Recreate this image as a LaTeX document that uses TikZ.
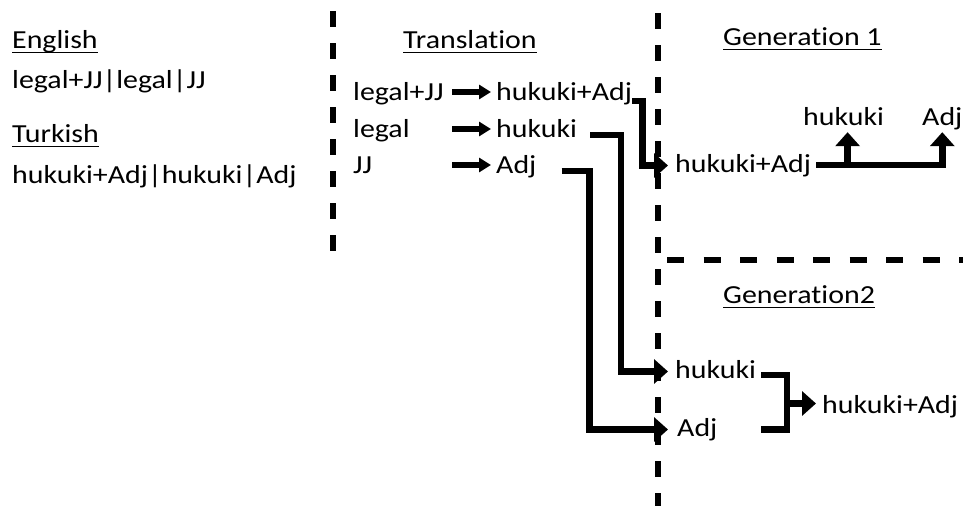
\documentclass[tikz,border=0pt]{standalone}
\usepackage{fontspec}
\setmainfont{Carlito}[FakeStretch=1.15,Ligatures=NoCommon]
\usetikzlibrary{arrows.meta}
\begin{document}
\begin{tikzpicture}[x=1pt,y=-1pt,
  txt/.style={inner sep=0pt,anchor=base west,text height=18pt,text depth=5pt,
    font=\fontsize{26}{30}\selectfont},
  uline/.style={line width=1.8pt},
  divider/.style={line width=6pt,dash pattern=on 16pt off 16pt},
  conn/.style={line width=6.5pt,line join=miter},
  bigarrow/.style={conn,-{Triangle[width=24pt,length=14pt]}},
  smallarrow/.style={line width=5.5pt,-{Triangle[width=14pt,length=12pt]}}]
\useasboundingbox (0,0) rectangle (963,506);

% column dividers
\draw[divider] (333,11) -- (333,256);
\draw[divider] (658,13) -- (658,506);
\draw[divider,dash pattern=on 17pt off 19.5pt] (667,260) -- (963,260);

% left column: the two segmentations
\node[txt] (english) at (12,48) {English};
\node[txt] (engl) at (12,88) {legal+JJ|legal|JJ};
\node[txt] (turkish) at (12,142) {Turkish};
\node[txt] (turk) at (12,183) {hukuki+Adj|hukuki|Adj};

% translation column
\node[txt] (trans) at (403,48) {Translation};
\node[txt] (s1) at (353,100) {legal+JJ};
\node[txt] (s2) at (353,137) {legal};
\node[txt] (s3) at (353,173) {JJ};
\node[txt] (t1) at (496,100) {hukuki+Adj};
\node[txt] (t2) at (496,137) {hukuki};
\node[txt] (t3) at (496,173) {Adj};

% generation 1
\node[txt] (gen1) at (723,45) {Generation 1};
\node[txt] (g1) at (675,172) {hukuki+Adj};
\node[txt] (g1h) at (803,125) {hukuki};
\node[txt] (g1a) at (922,125) {Adj};

% generation 2
\node[txt] (gen2) at (723,303) {Generation2};
\node[txt] (g2h) at (675,378) {hukuki};
\node[txt] (g2a) at (677,436) {Adj};
\node[txt] (g2c) at (822,413) {hukuki+Adj};

% heading underlines
\foreach \h in {english,turkish,trans,gen1,gen2}
  \draw[uline] ([yshift=-4.5pt]\h.base west) -- ([yshift=-4.5pt]\h.base east);

% word-by-word translation arrows
\coordinate (ax) at (452,0);
\foreach \i in {1,2,3}
  \draw[smallarrow] ([yshift=1.5pt]t\i.west -| ax) -- ([xshift=-5pt,yshift=1.5pt]t\i.west);

% translated units feeding the generators
\draw[bigarrow] ([yshift=-1pt]t1.base east) -- ++(10,0) |- ([xshift=-7pt]g1.west);
\draw[bigarrow] ([xshift=13pt,yshift=2pt]t2.base east) -- ++(31,0) |- ([xshift=-7pt]g2h.west);
\draw[bigarrow] ([xshift=25pt,yshift=2pt]t3.base east) -- ++(28,0) |- ([xshift=-9pt]g2a.west);

% generation 1: split into parts
\coordinate (f1) at ([xshift=5pt,yshift=7pt]g1.base east);
\coordinate (g1hx) at ([xshift=4pt,yshift=-2pt]g1h.south);
\draw[bigarrow] (f1) -| ([yshift=-2pt]g1a.south);
\draw[bigarrow] (f1 -| g1hx) -- (g1hx);

% generation 2: join the parts
\coordinate (b1) at ([xshift=5pt,yshift=3pt]g2h.base east);
\coordinate (bx) at (787,0);
\coordinate (g2ct) at ([xshift=-6pt,yshift=3pt]g2c.west);
\draw[conn] (b1) -- (b1 -| bx) -- (bx |- g2a.east) -- (b1 |- g2a.east);
\draw[bigarrow] (bx |- g2ct) -- (g2ct);
\end{tikzpicture}
\end{document}
